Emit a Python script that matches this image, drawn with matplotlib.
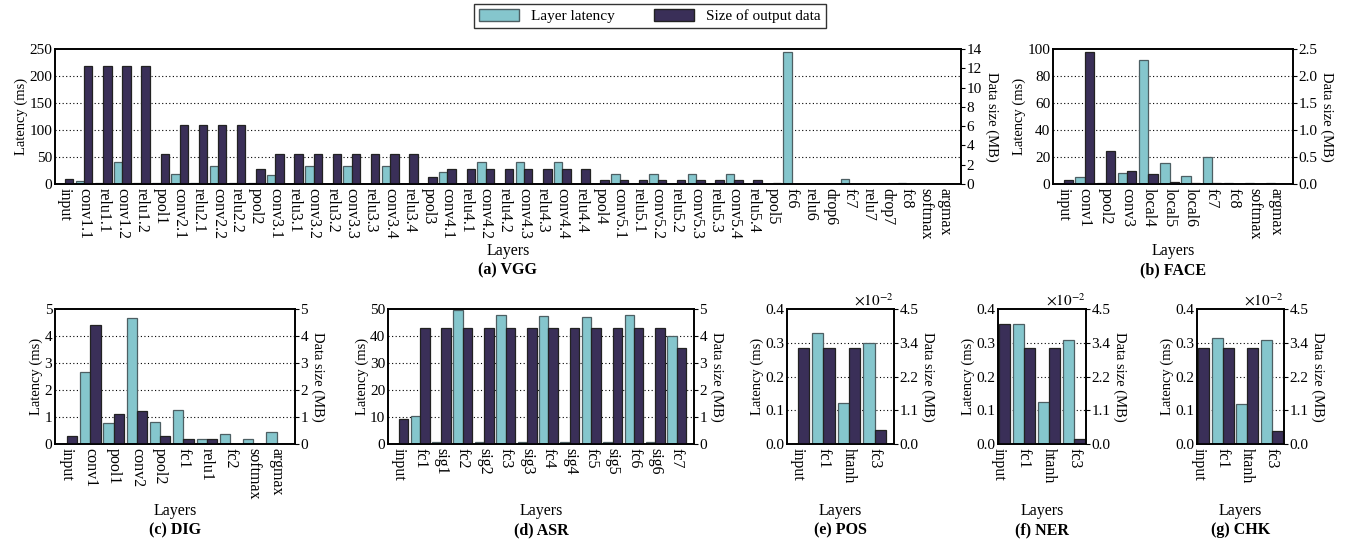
"""
Per-layer latency and output data size for seven networks
"""

import numpy as np
import matplotlib.pyplot as plt
from matplotlib.patches import Patch

plt.rcParams['font.family'] = ['Liberation Serif', 'DejaVu Serif']
plt.rcParams['mathtext.fontset'] = 'stix'
plt.rcParams['font.size'] = 11.5

###############################################################################
# Data: latency in ms, output data size in MB (x1e-2 MB for POS/NER/CHK)

vgg_layers = ["input", "conv1.1", "relu1.1", "conv1.2", "relu1.2", "pool1",
              "conv2.1", "relu2.1", "conv2.2", "relu2.2", "pool2",
              "conv3.1", "relu3.1", "conv3.2", "relu3.2", "conv3.3", "relu3.3",
              "conv3.4", "relu3.4", "pool3",
              "conv4.1", "relu4.1", "conv4.2", "relu4.2", "conv4.3", "relu4.3",
              "conv4.4", "relu4.4", "pool4",
              "conv5.1", "relu5.1", "conv5.2", "relu5.2", "conv5.3", "relu5.3",
              "conv5.4", "relu5.4", "pool5",
              "fc6", "relu6", "drop6", "fc7", "relu7", "drop7", "fc8",
              "softmax", "argmax"]
vgg_latency = [0, 5, 2, 40, 2, 1,
               18, 1, 34, 1, 1,
               17, 0.5, 33, 0.5, 33, 0.5, 33, 0.5, 0.5,
               23, 0.5, 40, 0.5, 41, 0.5, 41, 0.4, 0.4,
               19, 0.3, 19, 0.3, 19, 0.3, 19, 0.3, 0.2,
               244, 0.2, 0.2, 10, 0.1, 0.1, 2.5, 0.1, 0.1]
vgg_size = [0.57, 12.25, 12.25, 12.25, 12.25, 3.06,
            6.125, 6.125, 6.125, 6.125, 1.53,
            3.06, 3.06, 3.06, 3.06, 3.06, 3.06, 3.06, 3.06, 0.766,
            1.53, 1.53, 1.53, 1.53, 1.53, 1.53, 1.53, 1.53, 0.383,
            0.383, 0.383, 0.383, 0.383, 0.383, 0.383, 0.383, 0.383, 0.096,
            0.0156, 0.0156, 0.0156, 0.0156, 0.0156, 0.0156, 0.0038,
            0.0038, 0.0]

face_layers = ["input", "conv1", "pool2", "conv3", "local4", "local5",
               "local6", "fc7", "fc8", "softmax", "argmax"]
face_latency = [0, 5.5, 0.6, 8.5, 92, 15.5, 6, 20, 0.6, 0.4, 0.4]
face_size = [0.068, 2.45, 0.62, 0.24, 0.19, 0.04, 0.025, 0.012, 0.008, 0.0, 0.0]

dig_layers = ["input", "conv1", "pool1", "conv2", "pool2", "fc1", "relu1",
              "fc2", "softmax", "argmax"]
dig_latency = [0, 2.65, 0.78, 4.67, 0.83, 1.26, 0.18, 0.38, 0.2, 0.44]
dig_size = [0.3, 4.4, 1.1, 1.22, 0.3, 0.19, 0.19, 0.01, 0.01, 0.0]

asr_layers = ["input", "fc1", "sig1", "fc2", "sig2", "fc3", "sig3", "fc4",
              "sig4", "fc5", "sig5", "fc6", "sig6", "fc7"]
asr_latency = [0, 10.3, 0.8, 49.5, 0.8, 47.6, 0.8, 47.3, 0.8, 47.1, 0.8,
               47.6, 0.8, 40.0]
asr_size = [0.92, 4.28, 4.28, 4.28, 4.28, 4.28, 4.28, 4.28, 4.28, 4.28,
            4.28, 4.28, 4.28, 3.57]

nlp_layers = ["input", "fc1", "htanh", "fc3"]
pos_latency = [0, 0.328, 0.122, 0.300]
pos_size = [3.21, 3.21, 3.21, 0.48]
ner_latency = [0, 0.355, 0.124, 0.308]
ner_size = [4.0, 3.21, 3.21, 0.18]
chk_latency = [0, 0.315, 0.120, 0.307]
chk_size = [3.21, 3.21, 3.21, 0.45]

###############################################################################
# Drawing helpers

W, H = 1347, 544
CYAN = "#85c6cd"
DARK = "#3a2f58"
BAR_W = 0.44

fig = plt.figure(figsize=(W / 100, H / 100), dpi=100)


def box(l, r, t, b):
    return [l / W, 1 - b / H, (r - l) / W, (b - t) / H]


def panel(pos, layers, latency, size, lat_ticks, size_ticks, xlim, title,
          size_fmt="%g", sci=False):
    ax = fig.add_axes(box(*pos))
    ax2 = ax.twinx()
    x = np.arange(len(layers))
    ax.bar(x - BAR_W, latency, BAR_W, align="edge", color=CYAN,
           edgecolor="#4d5f63", linewidth=0.9)
    ax2.bar(x, size, BAR_W, align="edge", color=DARK,
            edgecolor="#222222", linewidth=0.9)

    ax.set_xlim(*xlim)
    ax.set_ylim(lat_ticks[0], lat_ticks[-1])
    ax2.set_ylim(size_ticks[0], size_ticks[-1])
    ax.set_yticks(lat_ticks)
    ax2.set_yticks(size_ticks)
    ax2.set_yticklabels([size_fmt % v for v in size_ticks])
    if isinstance(lat_ticks[1], float):
        ax.set_yticklabels(["%.1f" % v for v in lat_ticks])
    ax.set_xticks(x)
    ax.set_xticklabels(layers, rotation=-90, va="top", ha="center")

    for grid_y in lat_ticks[1:-1]:
        ax.axhline(grid_y, color="black", linestyle=(0, (1, 2.2)),
                   linewidth=0.8, zorder=0.5)

    ax.tick_params(axis="x", length=0, pad=3)
    ax.tick_params(axis="y", length=0, pad=2, labelsize=11)
    ax2.tick_params(axis="y", direction="out", length=3, width=0.8, pad=1,
                    labelsize=11)
    for a in (ax, ax2):
        for sp in a.spines.values():
            sp.set_linewidth(1.2)

    ax.set_ylabel("Latency (ms)", labelpad=1, fontsize=10.5)
    ax2.set_ylabel("Data size (MB)", rotation=-90, va="bottom", labelpad=2,
                   fontsize=10.5)

    if sci:
        ax2.annotate(r"$\times10^{-2}$", xy=(1, 1), xycoords="axes fraction",
                     xytext=(0, 0.5), textcoords="offset points",
                     ha="right", va="bottom", fontsize=11)

    l, r, t, b = pos
    cx = (l + r) / 2 / W
    ly = 1 - (b + 67) / H
    fig.text(cx, ly, "Layers", ha="center", va="center")
    fig.text(cx, ly - 19 / H, title, ha="center", va="center",
             fontweight="bold")
    return ax, ax2


panel((55, 961, 49, 184), vgg_layers, vgg_latency, vgg_size,
      [0, 50, 100, 150, 200, 250], [0, 2, 4, 6, 8, 10, 12, 14],
      (-0.52, 46.85), "(a) VGG")
panel((1053, 1293, 49, 184), face_layers, face_latency, face_size,
      [0, 20, 40, 60, 80, 100], [0.0, 0.5, 1.0, 1.5, 2.0, 2.5],
      (-0.5, 10.83), "(b) FACE", size_fmt="%.1f")
panel((55, 295, 309, 444), dig_layers, dig_latency, dig_size,
      [0, 1, 2, 3, 4, 5], [0, 1, 2, 3, 4, 5],
      (-0.52, 9.79), "(c) DIG")
panel((388, 694, 309, 444), asr_layers, asr_latency, asr_size,
      [0, 10, 20, 30, 40, 50], [0, 1, 2, 3, 4, 5],
      (-0.5, 13.8), "(d) ASR")

nlp_lat_ticks = [0.0, 0.1, 0.2, 0.3, 0.4]
nlp_size_ticks = list(np.linspace(0, 4.5, 5))
panel((787, 894, 309, 444), nlp_layers, pos_latency, pos_size,
      nlp_lat_ticks, nlp_size_ticks, (-0.42, 3.76), "(e) POS",
      size_fmt="%.1f", sci=True)
panel((998, 1086, 309, 444), nlp_layers, ner_latency, ner_size,
      nlp_lat_ticks, nlp_size_ticks, (-0.02, 3.46), "(f) NER",
      size_fmt="%.1f", sci=True)
panel((1197, 1284, 309, 444), nlp_layers, chk_latency, chk_size,
      nlp_lat_ticks, nlp_size_ticks, (-0.05, 3.5), "(g) CHK",
      size_fmt="%.1f", sci=True)

handles = [Patch(facecolor=CYAN, edgecolor="#4d5f63", label="Layer latency"),
           Patch(facecolor=DARK, edgecolor="#222222",
                 label="Size of output data")]
leg = fig.legend(handles=handles, loc="center", ncol=2,
                 bbox_to_anchor=(650 / W, 1 - 16 / H), frameon=True,
                 fancybox=False, edgecolor="black", handlelength=2.6,
                 handleheight=0.8, columnspacing=2.6, borderpad=0.3,
                 fontsize=11)
leg.get_frame().set_linewidth(1.0)

fig.savefig("out.png", dpi=100)
